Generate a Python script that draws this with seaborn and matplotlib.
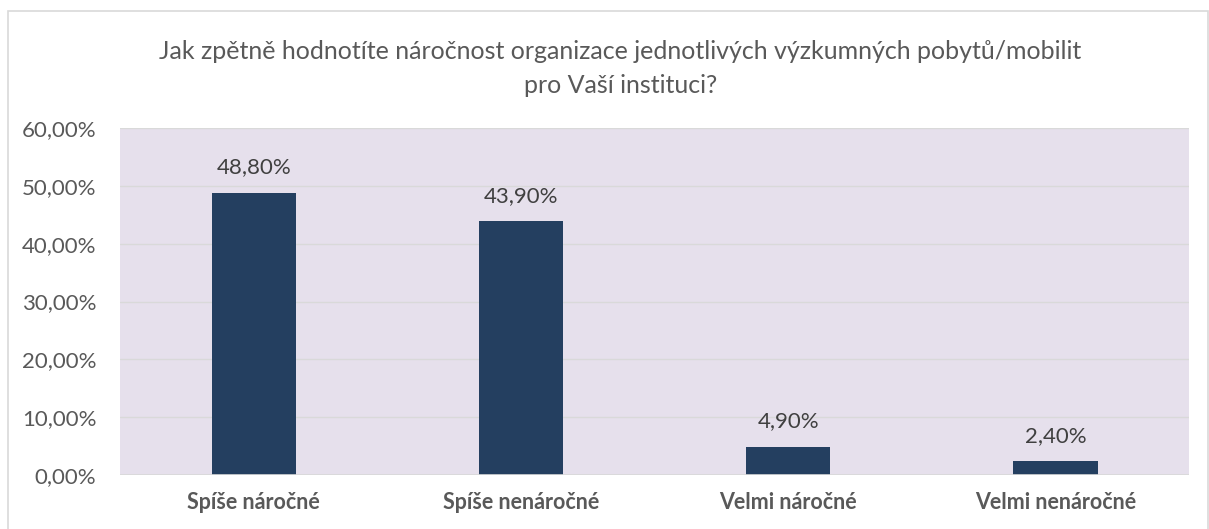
import matplotlib
matplotlib.use("Agg")
import matplotlib.pyplot as plt
import seaborn as sns
import pandas as pd
from matplotlib.patches import Rectangle

# --- data ---
categories = ["Spíše náročné", "Spíše nenáročné", "Velmi náročné", "Velmi nenáročné"]
values = [48.8, 43.9, 4.9, 2.4]
yticks = [0, 10, 20, 30, 40, 50, 60]

title = ("Jak zpětně hodnotíte náročnost organizace jednotlivých výzkumných pobytů/mobilit\n"
         "pro Vaší instituci?")

df = pd.DataFrame({"kategorie": categories, "podil": values})

sns.set_theme(style="white")
plt.rcParams["font.family"] = ["Lato", "DejaVu Sans"]

fig = plt.figure(figsize=(12.09, 5.29), dpi=100)
ax = fig.add_axes([0.0993, 0.102, 0.8842, 0.656])

# outer chart border like the office export
fig.patches.append(Rectangle((8 / 1209, -0.01), 1200 / 1209, 1 - 11 / 529 + 0.01,
                             transform=fig.transFigure, fill=False,
                             edgecolor="#D9D9D9", linewidth=1.2))

ax.set_facecolor("#E6E0EC")
sns.barplot(data=df, x="kategorie", y="podil", color="#243F60", width=0.315,
            saturation=1, linewidth=0, ax=ax, zorder=3)

ax.set_ylim(0, 60)
ax.set_yticks(yticks)
ax.set_yticklabels([f"{t:.2f}%".replace(".", ",") for t in yticks],
                   fontsize=16, color="#595959")
ax.yaxis.grid(True, color="#D9D9D9", linewidth=1)
ax.set_axisbelow(True)
for s in ax.spines.values():
    s.set_visible(False)
ax.axhline(0, color="#D9D9D9", linewidth=1.2, zorder=4)

ax.set_xlabel("")
ax.set_ylabel("")
ax.tick_params(axis="both", length=0)
ax.tick_params(axis="y", pad=17)
ax.tick_params(axis="x", pad=12)
for lbl in ax.get_xticklabels():
    lbl.set_fontsize(15.5)
    lbl.set_fontweight("bold")
    lbl.set_color("#595959")

for p, v in zip(ax.patches, values):
    ax.annotate(f"{v:.2f}%".replace(".", ","),
                (p.get_x() + p.get_width() / 2, p.get_height()),
                xytext=(0, 11), textcoords="offset points",
                ha="center", va="bottom", fontsize=16, color="#404040")

fig.text(0.513, 0.871, title, ha="center", va="center", fontsize=18,
         color="#595959", linespacing=1.6)

fig.savefig("out.png", dpi=100)
